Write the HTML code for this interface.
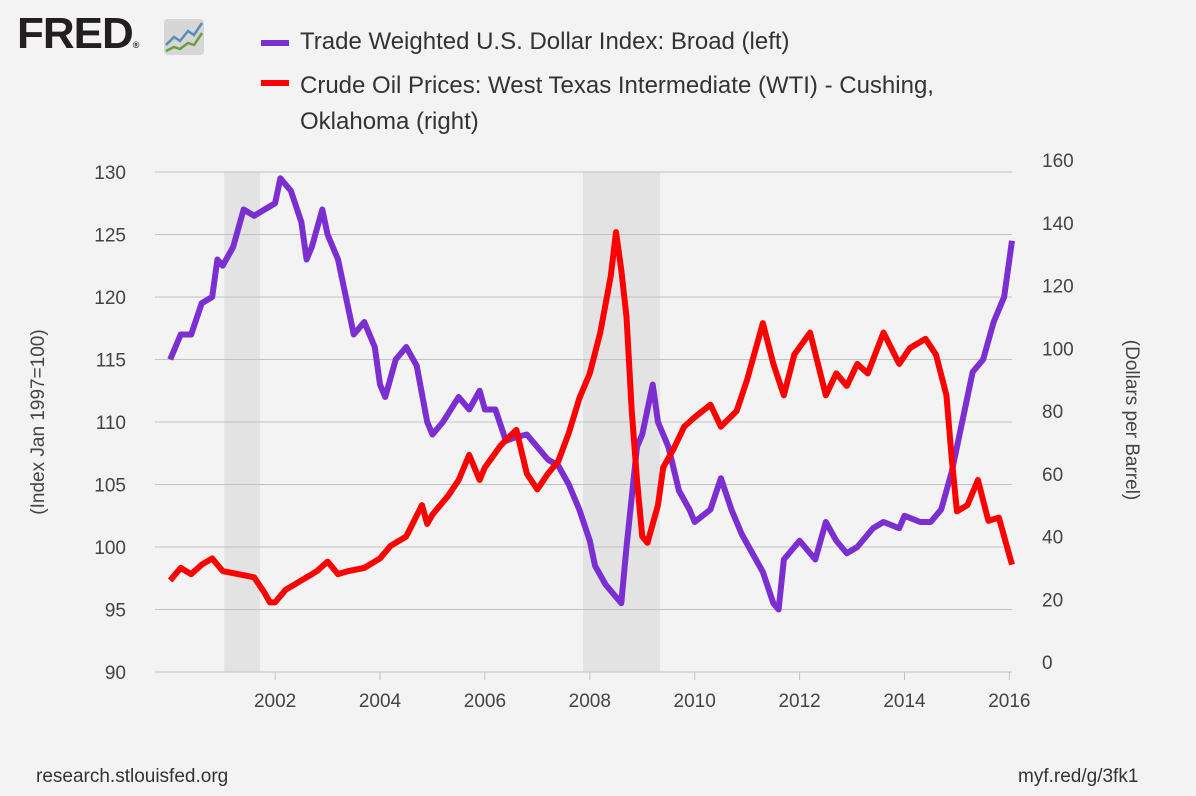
<!DOCTYPE html>
<html><head><meta charset="utf-8"><style>
body{margin:0;background:#f3f3f3;font-family:"Liberation Sans",sans-serif;}
#wrap{position:relative;width:1196px;height:796px;overflow:hidden;background:#f3f3f3;}
.t{position:absolute;color:#333;white-space:nowrap;}
</style></head><body>
<div id="wrap">
<div class="t" style="left:17px;top:12px;font-size:44px;font-weight:bold;color:#231f20;letter-spacing:-1px;line-height:44px;">FRED<span style="font-size:9px;letter-spacing:0">®</span></div>
<svg style="position:absolute;left:164px;top:19px" width="40" height="36"><rect width="40" height="36" rx="4" fill="#d6d6d6"/><polyline points="2,26 10,18 16,22 24,12 30,16 38,4" fill="none" stroke="#5a8db5" stroke-width="2.5"/><polyline points="2,32 10,28 16,30 24,24 30,26 38,14" fill="none" stroke="#6aa03c" stroke-width="2.5"/></svg>
<div><div style="position:absolute;left:261px;top:40px;width:28px;height:6px;background:#7b2fd1"></div><div class="t" style="left:300px;top:28px;font-size:24px;">Trade Weighted U.S. Dollar Index: Broad (left)</div></div>
<div><div style="position:absolute;left:261px;top:80px;width:28px;height:6px;background:#ff0000"></div><div class="t" style="left:300px;top:68px;font-size:24px;line-height:36px;">Crude Oil Prices: West Texas Intermediate (WTI) - Cushing,<br>Oklahoma (right)</div></div>
<div class="t" style="left:36px;top:766px;font-size:19px;">research.stlouisfed.org</div>
<div class="t" style="left:1018px;top:766px;font-size:19px;">myf.red/g/3fk1</div>
<svg id="chart" width="1196" height="796" style="position:absolute;left:0;top:0"></svg>
</div>
<script>
const leftTicks=[90,95,100,105,110,115,120,125,130];
const rightTicks=[0,20,40,60,80,100,120,140,160];
const xTicks=[2002,2004,2006,2008,2010,2012,2014,2016];
const recessions=[[2001.03,2001.71],[2007.87,2009.34]];
const dollarX=[2000.0,2000.2,2000.4,2000.6,2000.8,2000.9,2001.0,2001.2,2001.4,2001.6,2001.8,2002.0,2002.1,2002.3,2002.5,2002.6,2002.7,2002.9,2003.0,2003.2,2003.3,2003.5,2003.7,2003.9,2004.0,2004.1,2004.3,2004.5,2004.7,2004.9,2005.0,2005.2,2005.5,2005.7,2005.9,2006.0,2006.2,2006.4,2006.6,2006.8,2007.0,2007.2,2007.4,2007.6,2007.8,2008.0,2008.1,2008.3,2008.5,2008.6,2008.7,2008.9,2009.0,2009.2,2009.3,2009.5,2009.7,2009.9,2010.0,2010.3,2010.5,2010.7,2010.9,2011.1,2011.3,2011.5,2011.6,2011.7,2011.9,2012.0,2012.3,2012.5,2012.7,2012.9,2013.1,2013.4,2013.6,2013.9,2014.0,2014.3,2014.5,2014.7,2014.9,2015.1,2015.3,2015.5,2015.7,2015.9,2016.05];
const dollarY=[115,117,117,119.5,120,123,122.5,124,127,126.5,127,127.5,129.5,128.5,126,123,124,127,125,123,121,117,118,116,113,112,115,116,114.5,110,109,110,112,111,112.5,111,111,108.5,108.8,109,108,107,106.5,105,103,100.5,98.5,97,96,95.5,100,108,109,113,110,108,104.5,103,102,103,105.5,103,101,99.5,98,95.5,95,99,100,100.5,99,102,100.5,99.5,100,101.5,102,101.5,102.5,102,102,103,106,110,114,115,118,120,124.5];
const oilX=[2000.0,2000.2,2000.4,2000.6,2000.8,2000.9,2001.0,2001.3,2001.6,2001.8,2001.9,2002.0,2002.2,2002.5,2002.8,2003.0,2003.2,2003.4,2003.7,2004.0,2004.2,2004.5,2004.8,2004.9,2005.0,2005.3,2005.5,2005.7,2005.9,2006.0,2006.3,2006.6,2006.8,2007.0,2007.2,2007.4,2007.6,2007.8,2008.0,2008.2,2008.4,2008.5,2008.6,2008.7,2008.8,2008.9,2009.0,2009.1,2009.3,2009.4,2009.6,2009.8,2010.0,2010.3,2010.5,2010.8,2011.0,2011.3,2011.5,2011.7,2011.9,2012.2,2012.5,2012.7,2012.9,2013.1,2013.3,2013.6,2013.9,2014.1,2014.4,2014.6,2014.8,2014.9,2015.0,2015.2,2015.4,2015.6,2015.8,2015.9,2016.05];
const oilY=[26,30,28,31,33,31,29,28,27,22,19,19,23,26,29,32,28,29,30,33,37,40,50,44,47,53,58,66,58,62,69,74,60,55,60,64,73,84,92,105,123,137,125,110,80,58,40,38,50,62,68,75,78,82,75,80,90,108,95,85,98,105,85,92,88,95,92,105,95,100,103,98,85,65,48,50,58,45,46,40,31];
const NS='http://www.w3.org/2000/svg';
const svg=document.getElementById('chart');
const X0=155,X1=1012;
const xs=v=>X0+(v-1999.71)/(2016.05-1999.71)*(X1-X0);
const yl=v=>672-(v-90)*12.5;
const yr=v=>662-v*3.1375;
function mk(tag,attrs,parent){const e=document.createElementNS(NS,tag);for(const k in attrs)e.setAttribute(k,attrs[k]);(parent||svg).appendChild(e);return e;}
recessions.forEach(r=>{const e=mk('rect',{x:xs(r[0]),y:172,width:xs(r[1])-xs(r[0]),height:500,fill:'#e3e3e3'});

});
leftTicks.forEach(t=>{const g=mk('line',{x1:X0,x2:X1,y1:yl(t),y2:yl(t),stroke:'#c2c2c2','stroke-width':1});


const l=mk('text',{x:126,y:yl(t)+7,'text-anchor':'end','font-size':19,fill:'#444','font-family':'Liberation Sans'});l.textContent=t;

});
rightTicks.forEach(t=>{const l=mk('text',{x:1042,y:yr(t)+7,'font-size':19,fill:'#444','font-family':'Liberation Sans'});l.textContent=t;

});
xTicks.forEach(t=>{mk('line',{x1:xs(t),x2:xs(t),y1:672,y2:680,stroke:'#c2c2c2'});
const l=mk('text',{x:xs(t),y:707,'text-anchor':'middle','font-size':19,fill:'#444','font-family':'Liberation Sans'});l.textContent=t;

});
const lt=mk('text',{transform:'translate(44,422) rotate(-90)','text-anchor':'middle','font-size':19,fill:'#444','font-family':'Liberation Sans'});lt.textContent='(Index Jan 1997=100)';


const rt=mk('text',{transform:'translate(1126,420) rotate(90)','text-anchor':'middle','font-size':19,fill:'#444','font-family':'Liberation Sans'});rt.textContent='(Dollars per Barrel)';


const dp=mk('polyline',{points:dollarX.map((x,i)=>xs(x)+','+yl(dollarY[i])).join(' '),fill:'none',stroke:'#7b2fd1','stroke-width':6,'stroke-linejoin':'round'});


const op=mk('polyline',{points:oilX.map((x,i)=>xs(x)+','+yr(oilY[i])).join(' '),fill:'none',stroke:'#ff0000','stroke-width':6,'stroke-linejoin':'round'});


</script>
</body></html>
